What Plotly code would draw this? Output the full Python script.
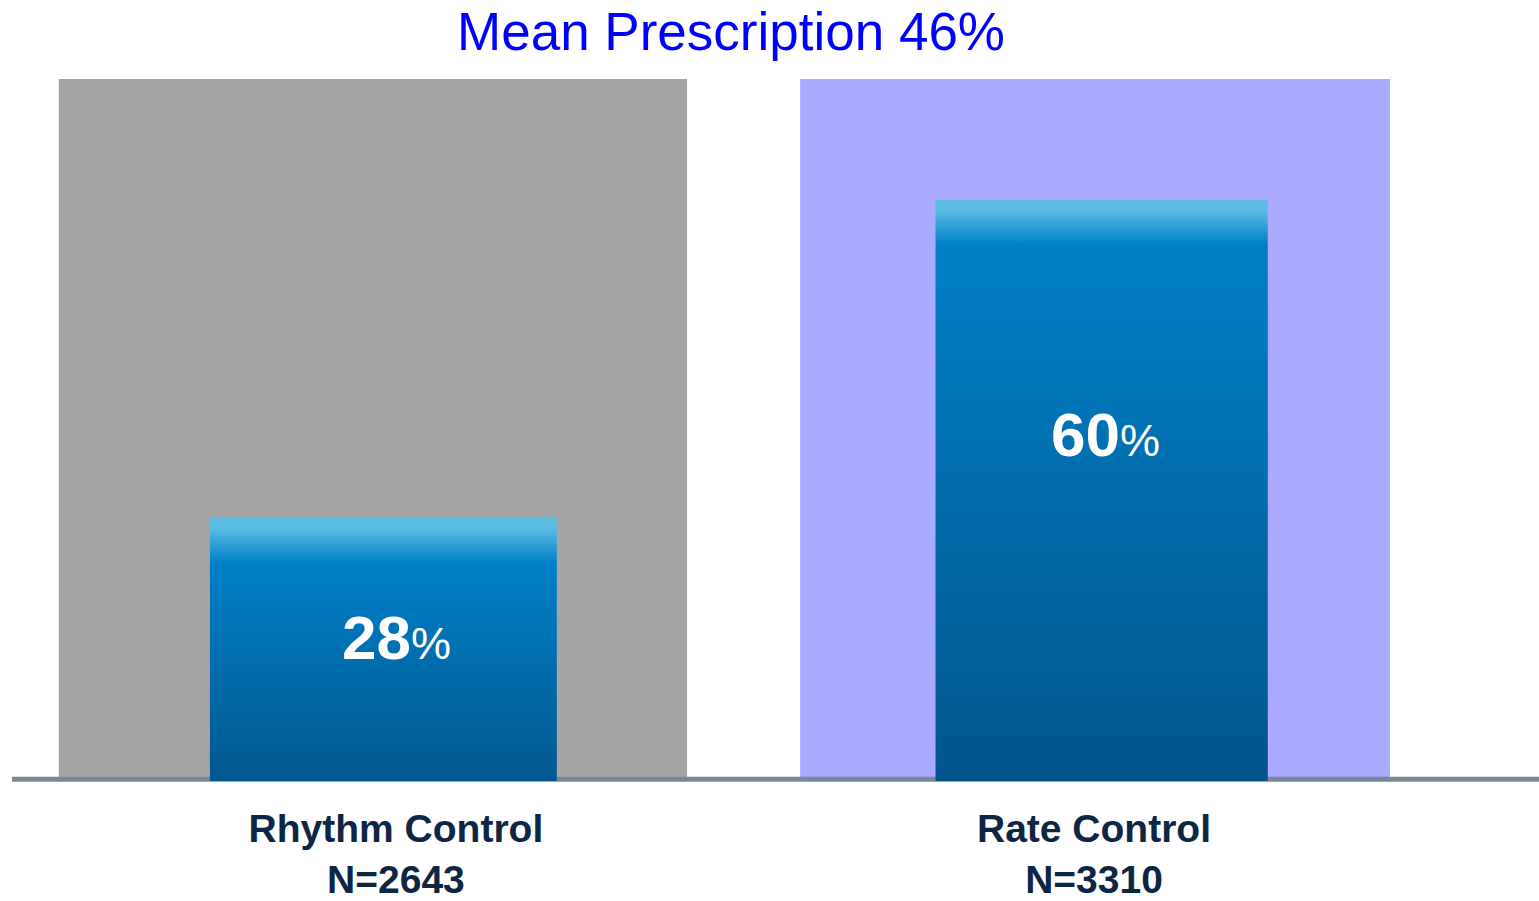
import plotly.graph_objects as go

# Share of patients with the prescription, by treatment strategy
categories = ["Rhythm Control", "Rate Control"]
sample_sizes = [2643, 3310]
prescription_pct = [28, 60]
mean_pct = 46

# Styling
FONT = "Liberation Sans, Arial, sans-serif"
NAVY = "#0D2644"
cat_pos = [0, 1]
bar_offset = [-0.018, 0.011]
bar_width = [0.497, 0.476]
panel_span = [(-0.483, 0.417), (0.579, 1.424)]
panel_color = ["#A5A5A5", "#AAAAFF"]
label_dx = [0.001, 0.017]
label_frac = [0.571, 0.607]
Y_RANGE = [1.53, 72.17]
TOP_BAND = 4.5   # height (in axis units) of the light highlight at the bar top
TOP_LIGHT = 1.0

fig = go.Figure()

# Background panels behind each group
shapes = []
for (x0, x1), col in zip(panel_span, panel_color):
    shapes.append(dict(type="rect", xref="x", yref="paper", x0=x0, x1=x1,
                       y0=0.004, y1=1, fillcolor=col, line_width=0, layer="below"))
# Baseline
shapes.append(dict(type="line", xref="paper", yref="paper", x0=0, x1=1, y0=0.0025, y1=0.0025,
                   line=dict(color="#7A8896", width=5), layer="below"))

# Gradient-filled bars
for i, (name, val) in enumerate(zip(categories, prescription_pct)):
    c = cat_pos[i] + bar_offset[i]
    hw = bar_width[i] / 2
    blue_stop = 1 - TOP_BAND / val
    light_stop = 1 - TOP_LIGHT / val
    fig.add_trace(go.Scatter(
        x=[c - hw, c + hw, c + hw, c - hw, c - hw],
        y=[0, 0, val, val, 0],
        mode="lines", fill="toself", line=dict(width=0),
        fillgradient=dict(type="vertical", start=0, stop=val,
                          colorscale=[[0, "#00548A"], [blue_stop, "#0080C8"],
                                      [light_stop, "#5BBDE3"], [1, "#5BBDE3"]]),
        name=name, showlegend=False, hoverinfo="skip",
    ))

annotations = []
for i, val in enumerate(prescription_pct):
    annotations.append(dict(
        x=cat_pos[i] + label_dx[i], y=val * label_frac[i], xref="x", yref="y", showarrow=False,
        text=f"<b>{val}</b><span style='font-size:45px'>%</span>",
        font=dict(family=FONT, size=62, color="white"),
        xanchor="center", yanchor="middle",
    ))

fig.update_layout(
    width=1539, height=901,
    margin=dict(l=12, r=0, t=79, b=120, autoexpand=False),
    paper_bgcolor="white", plot_bgcolor="rgba(0,0,0,0)",
    title=dict(text=f"Mean Prescription {mean_pct}%", x=0.475, xanchor="center",
               y=0.965, yanchor="middle",
               font=dict(family=FONT, size=53, color="#0000FF")),
    shapes=shapes, annotations=annotations,
    xaxis=dict(range=[-0.550, 1.6375], showgrid=False, zeroline=False, showline=False,
               automargin=False,
               tickvals=cat_pos,
               ticktext=[f"<b>{c}</b><br><b>N={n}</b>" for c, n in zip(categories, sample_sizes)],
               tickfont=dict(family=FONT, size=39, color=NAVY), ticks="",
               ticklabelstandoff=21),
    yaxis=dict(range=Y_RANGE, visible=False, showgrid=False, zeroline=False, automargin=False),
)

fig.write_html("out.html")
